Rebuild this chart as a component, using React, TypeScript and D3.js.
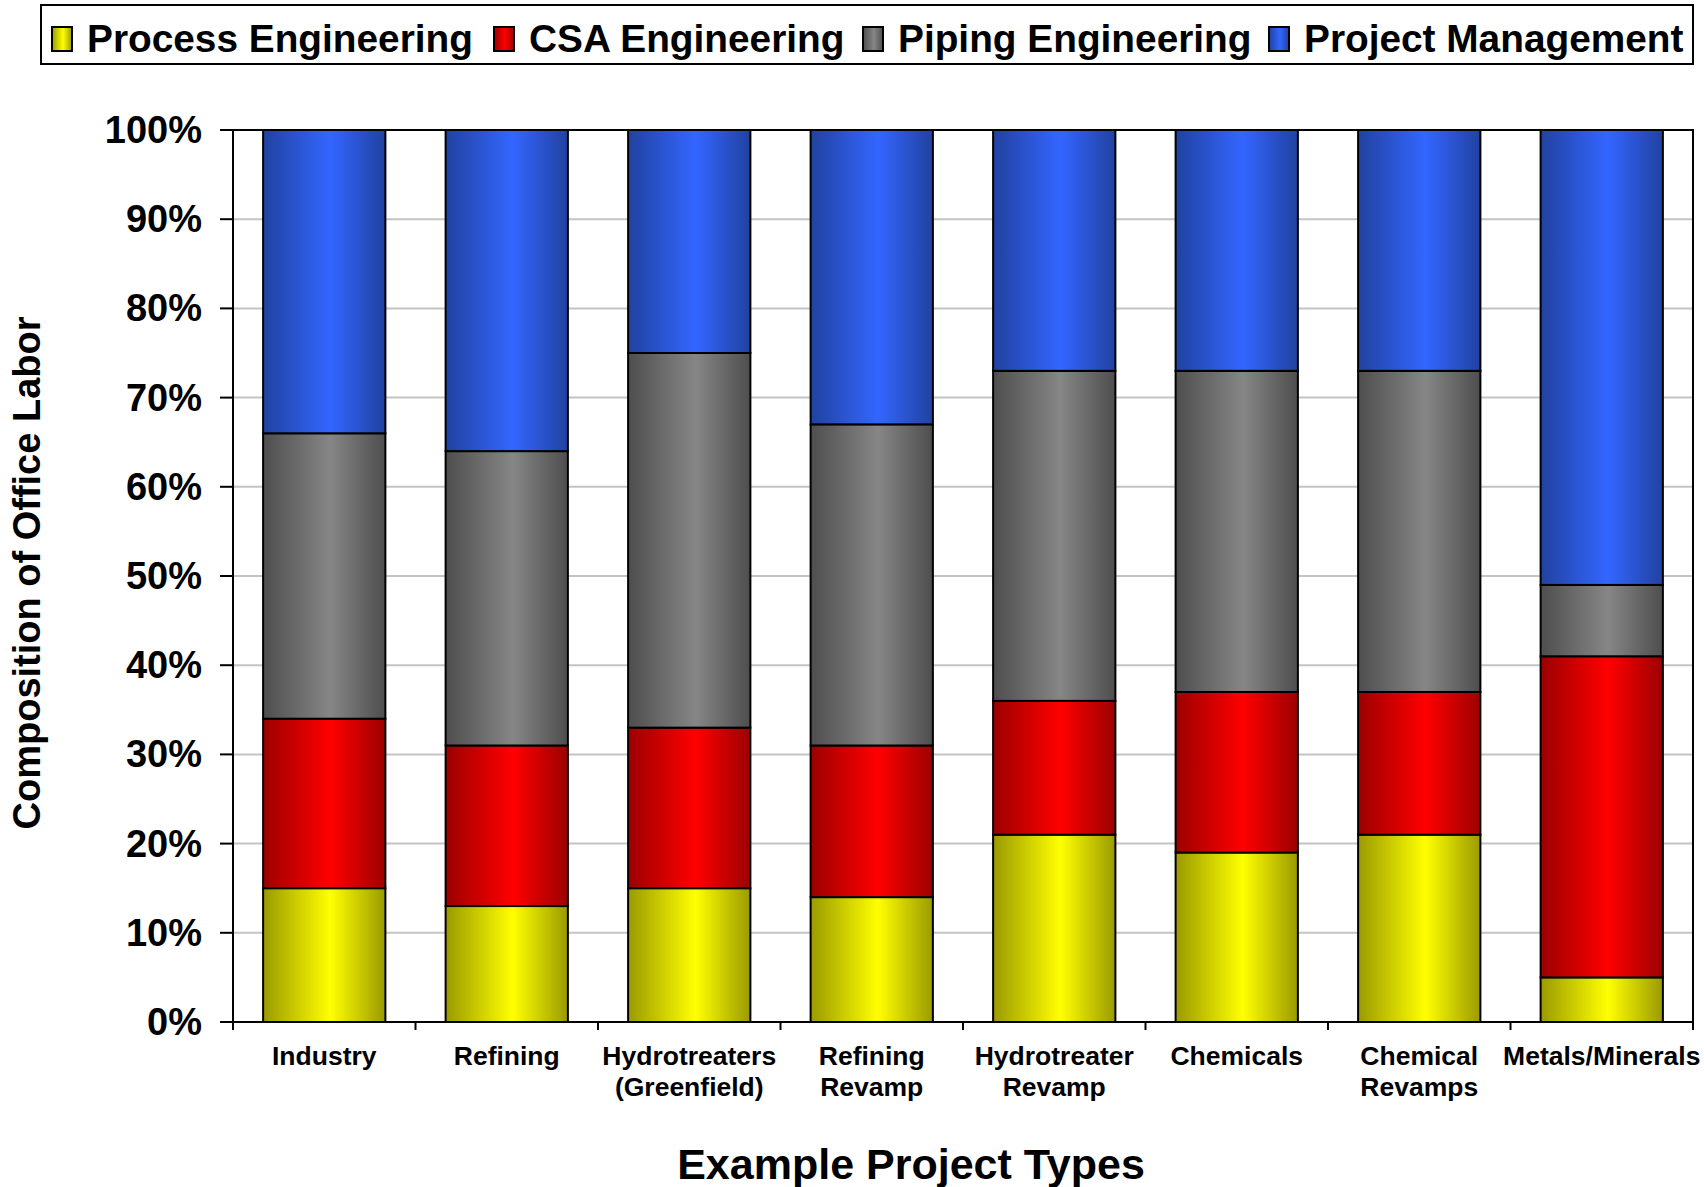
import React, { useRef, useEffect } from "react";
import * as d3 from "d3";

const fontFamily = "'Liberation Sans', Arial, Helvetica, sans-serif";

// categories (one entry per line of the axis label)
const categories: string[][] = [
  ["Industry"],
  ["Refining"],
  ["Hydrotreaters", "(Greenfield)"],
  ["Refining", "Revamp"],
  ["Hydrotreater", "Revamp"],
  ["Chemicals"],
  ["Chemical", "Revamps"],
  ["Metals/Minerals"],
];

const seriesNames = ["Process Engineering", "CSA Engineering", "Piping Engineering", "Project Management"];

// percentages per category
const processEng = [15, 13, 15, 14, 21, 19, 21, 5];
const csaEng = [19, 18, 18, 17, 15, 18, 16, 36];
const pipingEng = [32, 33, 42, 36, 37, 36, 36, 8];
const projectMgmt = [34, 36, 25, 33, 27, 27, 27, 51];

const yTicks = [0, 10, 20, 30, 40, 50, 60, 70, 80, 90, 100];

// gradient colours: [edge, centre]
const palette: [string, string][] = [
  ["#9a9a00", "#ffff00"],
  ["#9c0000", "#ff0000"],
  ["#4e4e4e", "#868686"],
  ["#2142a0", "#3366ff"],
];

// legend text start positions
const legendX = [87, 529, 898, 1304];

export default function App() {
  const ref = useRef<SVGSVGElement>(null);
  const width = 1704;
  const height = 1187;

  useEffect(() => {
    const svg = d3.select(ref.current);
    svg.selectAll("*").remove();

    const left = 233;
    const right = 1693;
    const top = 130;
    const bottom = 1022;

    // gradients
    const defs = svg.append("defs");
    palette.forEach((c, i) => {
      const g = defs
        .append("linearGradient")
        .attr("id", "grad" + i)
        .attr("x1", "0%")
        .attr("x2", "100%")
        .attr("y1", "0%")
        .attr("y2", "0%");
      g.append("stop").attr("offset", "0%").attr("stop-color", c[0]);
      g.append("stop").attr("offset", "55%").attr("stop-color", c[1]);
      g.append("stop").attr("offset", "100%").attr("stop-color", c[0]);
    });

    const rows = categories.map((c, i) => ({
      key: i,
      s0: processEng[i],
      s1: csaEng[i],
      s2: pipingEng[i],
      s3: projectMgmt[i],
    }));
    const stack = d3.stack<any>().keys(["s0", "s1", "s2", "s3"]);
    const stacked = stack(rows);

    const x = d3
      .scaleBand<number>()
      .domain(categories.map((c, i) => i))
      .range([left, right])
      .paddingInner(0.33)
      .paddingOuter(0.165);
    const y = d3.scaleLinear().domain([0, 100]).range([bottom, top]);

    // grid lines
    svg
      .append("g")
      .selectAll("line")
      .data(yTicks.filter((t) => t > 0 && t < 100))
      .join("line")
      .attr("x1", left)
      .attr("x2", right)
      .attr("y1", (d) => y(d))
      .attr("y2", (d) => y(d))
      .attr("stroke", "#c4c4c4")
      .attr("stroke-width", 2);

    // frame top + right
    svg
      .append("path")
      .attr("d", `M${left},${top}H${right}V${bottom}`)
      .attr("fill", "none")
      .attr("stroke", "#000")
      .attr("stroke-width", 2);

    // bars
    svg
      .append("g")
      .selectAll("g")
      .data(stacked)
      .join("g")
      .attr("fill", (d, i) => `url(#grad${i})`)
      .selectAll("rect")
      .data((d) => d)
      .join("rect")
      .attr("x", (d) => x(d.data.key)!)
      .attr("width", x.bandwidth())
      .attr("y", (d) => y(d[1]))
      .attr("height", (d) => y(d[0]) - y(d[1]))
      .attr("stroke", "#000")
      .attr("stroke-width", 2);

    // y axis
    const yAxis = svg.append("g");
    yAxis
      .append("line")
      .attr("x1", left)
      .attr("x2", left)
      .attr("y1", top)
      .attr("y2", bottom)
      .attr("stroke", "#000")
      .attr("stroke-width", 2);
    yAxis
      .selectAll("line.tick")
      .data(yTicks)
      .join("line")
      .attr("class", "tick")
      .attr("x1", left - 13)
      .attr("x2", left)
      .attr("y1", (d) => y(d))
      .attr("y2", (d) => y(d))
      .attr("stroke", "#000")
      .attr("stroke-width", 2);
    yAxis
      .selectAll("text")
      .data(yTicks)
      .join("text")
      .attr("x", 202)
      .attr("y", (d) => y(d) + 13)
      .attr("text-anchor", "end")
      .attr("font-size", 38)
      .attr("font-weight", "bold")
      .attr("font-family", fontFamily)
      .text((d) => d + "%");

    // x axis
    const xAxis = svg.append("g");
    xAxis
      .append("line")
      .attr("x1", left - 13)
      .attr("x2", right)
      .attr("y1", bottom)
      .attr("y2", bottom)
      .attr("stroke", "#000")
      .attr("stroke-width", 2);
    const step = x.step();
    xAxis
      .selectAll("line.tick")
      .data(d3.range(categories.length + 1))
      .join("line")
      .attr("class", "tick")
      .attr("x1", (d) => left + d * step)
      .attr("x2", (d) => left + d * step)
      .attr("y1", bottom)
      .attr("y2", bottom + 8)
      .attr("stroke", "#000")
      .attr("stroke-width", 2);
    xAxis
      .selectAll("text")
      .data(categories)
      .join("text")
      .attr("x", (d, i) => x(i)! + x.bandwidth() / 2)
      .attr("y", 1065)
      .attr("text-anchor", "middle")
      .attr("font-size", 26.5)
      .attr("font-weight", "bold")
      .attr("font-family", fontFamily)
      .selectAll("tspan")
      .data((d) => d)
      .join("tspan")
      .attr("x", function () {
        return (this.parentNode as SVGTextElement).getAttribute("x");
      })
      .attr("dy", (d, i) => (i === 0 ? 0 : 31))
      .text((d) => d);

    // axis titles
    svg
      .append("text")
      .attr("x", 911)
      .attr("y", 1179)
      .attr("text-anchor", "middle")
      .attr("font-size", 43)
      .attr("font-weight", "bold")
      .attr("font-family", fontFamily)
      .text("Example Project Types");

    svg
      .append("text")
      .attr("transform", "translate(40,573) rotate(-90)")
      .attr("text-anchor", "middle")
      .attr("font-size", 38)
      .attr("font-weight", "bold")
      .attr("font-family", fontFamily)
      .text("Composition of Office Labor");

    // legend
    const lg = svg.append("g");
    lg.append("rect")
      .attr("x", 41)
      .attr("y", 5)
      .attr("width", 1652)
      .attr("height", 59)
      .attr("fill", "#fff")
      .attr("stroke", "#000")
      .attr("stroke-width", 2);
    seriesNames.forEach((name, i) => {
      const tx = legendX[i];
      lg.append("rect")
        .attr("x", tx - 35)
        .attr("y", 27)
        .attr("width", 20)
        .attr("height", 24)
        .attr("fill", `url(#grad${i})`)
        .attr("stroke", "#000")
        .attr("stroke-width", 2);
      lg.append("text")
        .attr("x", tx)
        .attr("y", 52)
        .attr("font-size", 38.8)
        .attr("font-weight", "bold")
        .attr("font-family", fontFamily)
        .text(name);
    });
  }, []);

  return (
    <svg
      ref={ref}
      width={width}
      height={height}
      style={{ position: "absolute", left: 0, top: 0, background: "#fff" }}
    ></svg>
  );
}
